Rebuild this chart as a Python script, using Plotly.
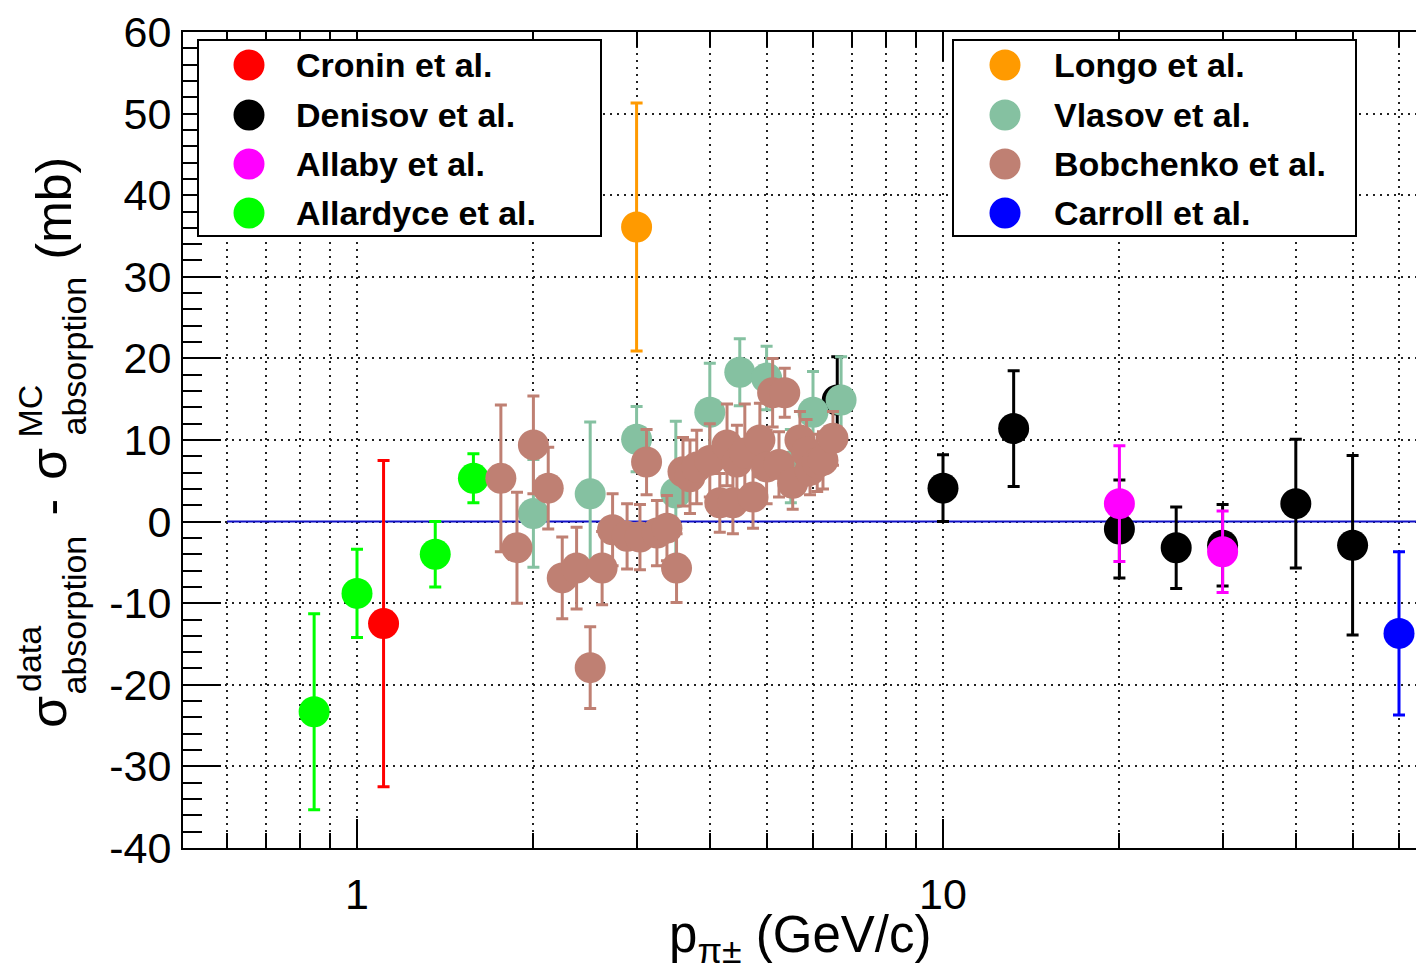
import math
import plotly.graph_objects as go

# ---------------- data (p in GeV/c, difference in mb, symmetric error) ----------------
cronin_p = [1.11]
cronin_d = [-12.5]
cronin_e = [20.0]

denisov_p = [6.6, 10.0, 13.2, 20.0, 25.0, 30.0, 40.0, 50.0]
denisov_d = [14.9, 4.1, 11.4, -0.9, -3.2, -2.9, 2.2, -2.9]
denisov_e = [5.3, 4.1, 7.1, 6.0, 5.0, 5.0, 7.9, 11.0]

allaby_p = [20.0, 30.0]
allaby_d = [2.2, -3.7]
allaby_e = [7.1, 5.0]

allardyce_p = [0.845, 1.0, 1.36, 1.58]
allardyce_d = [-23.3, -8.8, -4.0, 5.3]
allardyce_e = [12.0, 5.4, 4.0, 3.0]

longo_p = [3.0]
longo_d = [36.1]
longo_e = [15.2]

vlasov_p = [2.0, 2.5, 3.0, 3.5, 4.0, 4.5, 5.0, 5.5, 6.0, 6.7]
vlasov_d = [1.0, 3.4, 10.1, 3.5, 13.4, 18.3, 17.6, 6.8, 13.4, 14.9]
vlasov_e = [6.6, 8.8, 4.0, 8.8, 6.0, 4.1, 3.9, 4.5, 5.0, 5.3]

bobchenko_p = [1.76, 1.875, 2.0, 2.12, 2.24, 2.37, 2.5, 2.62, 2.73, 2.89, 3.04,
               3.12, 3.25, 3.38, 3.51, 3.6, 3.7, 3.8, 4.0, 4.16, 4.28, 4.38,
               4.45, 4.59, 4.74, 4.87, 5.0, 5.12, 5.25, 5.37, 5.54, 5.7, 5.85,
               5.93, 6.1, 6.24, 6.49]
bobchenko_d = [5.3, -3.2, 9.4, 4.1, -6.9, -5.7, -17.9, -5.7, -1.0, -1.8, -1.9,
               7.3, -1.4, -0.8, -5.7, 6.1, 5.5, 6.7, 7.5, 2.3, 9.4, 2.3,
               7.3, 8.4, 3.0, 10.0, 6.7, 15.8, 7.0, 15.8, 4.7, 10.0, 8.5,
               6.3, 7.2, 7.5, 10.2]
bobchenko_e = [9.0, 6.8, 6.0, 5.0, 5.0, 5.0, 5.0, 4.5, 4.4, 4.0, 4.0,
               4.0, 4.0, 4.0, 4.2, 4.2, 4.5, 4.5, 4.5, 3.6, 5.0, 3.8,
               4.5, 6.0, 3.8, 4.5, 4.5, 4.2, 4.0, 3.0, 3.2, 3.5, 4.0,
               3.0, 3.5, 3.5, 3.3]

carroll_p = [60.0]
carroll_d = [-13.7]
carroll_e = [10.0]

series_names = ["Cronin et al.", "Denisov et al.", "Allaby et al.", "Allardyce et al.",
                "Longo et al.", "Vlasov et al.", "Bobchenko et al.", "Carroll et al."]
series_colors = ["#ff0000", "#000000", "#ff00ff", "#00ff00",
                 "#ff9a00", "#85c1a1", "#bf8073", "#0000ff"]
series_data = [(cronin_p, cronin_d, cronin_e), (denisov_p, denisov_d, denisov_e),
               (allaby_p, allaby_d, allaby_e), (allardyce_p, allardyce_d, allardyce_e),
               (longo_p, longo_d, longo_e), (vlasov_p, vlasov_d, vlasov_e),
               (bobchenko_p, bobchenko_d, bobchenko_e), (carroll_p, carroll_d, carroll_e)]

zero_line_p = [0.6, 70.0]
zero_line_d = [0.0, 0.0]

x_major_ticks = [1, 10]
x_major_text = ["1", "10"]
x_minor_ticks = [0.6, 0.7, 0.8, 0.9, 2, 3, 4, 5, 6, 7, 8, 9, 20, 30, 40, 50, 60]
y_ticks = [-40, -30, -20, -10, 0, 10, 20, 30, 40, 50, 60]
y_tick_text = ["-40", "-30", "-20", "-10", "0", "10", "20", "30", "40", "50", "60"]

# ---------------- layout geometry (page pixels; the page body adds an 8px margin) ----------------
OFF = 8
W, H = 1424 - OFF, 978 - OFF
L, R, T, B = 183 - OFF, 0, 32 - OFF, 130
PW, PH = W - L - R, H - T - B
px_per_decade = 586.0
x_lo = math.log10(1.0) - (357 - 183) / px_per_decade
x_hi = x_lo + PW / px_per_decade

FONT = "Liberation Sans"


def fx(px):
    return (px - OFF - L) / PW


def fy(py):
    return (H - B - (py - OFF)) / PH


fig = go.Figure()

fig.add_trace(go.Scatter(x=zero_line_p, y=zero_line_d, mode="lines",
                         line=dict(color="#1010c8", width=2),
                         showlegend=False, hoverinfo="skip"))

for name, color, (p, d, e) in zip(series_names, series_colors, series_data):
    fig.add_trace(go.Scatter(
        x=p, y=d, mode="markers", name=name, showlegend=False,
        marker=dict(color=color, size=31, line=dict(width=0)),
        error_y=dict(type="data", array=e, visible=True, color=color,
                     thickness=3, width=6),
    ))

grid_dash = "2px,5px"
fig.update_xaxes(
    type="log", range=[x_lo, x_hi],
    tickmode="array", tickvals=x_major_ticks, ticktext=x_major_text,
    ticks="inside", ticklen=29, tickwidth=2, tickcolor="black",
    showline=True, linecolor="black", linewidth=2, mirror="ticks",
    showgrid=True, gridcolor="#222222", gridwidth=1.5, griddash=grid_dash,
    minor=dict(tickvals=x_minor_ticks, ticks="inside", ticklen=15, tickwidth=2,
               tickcolor="black", showgrid=True, gridcolor="#222222",
               gridwidth=1.5, griddash=grid_dash),
    tickfont=dict(family=FONT, size=43, color="black"),
    zeroline=False, ticklabelstandoff=7,
)
fig.update_yaxes(
    range=[-40, 60], tickmode="array", tickvals=y_ticks, ticktext=y_tick_text,
    ticks="inside", ticklen=38, tickwidth=2, tickcolor="black",
    showline=True, linecolor="black", linewidth=2, mirror=False,
    showgrid=True, gridcolor="#222222", gridwidth=1.5, griddash=grid_dash,
    minor=dict(dtick=2, ticks="inside", ticklen=19, tickwidth=2,
               tickcolor="black", showgrid=False),
    tickfont=dict(family=FONT, size=43, color="black"),
    zeroline=False, ticklabelstandoff=1,
)

shapes = []
annotations = []

# ---------------- legends (two boxes) ----------------
legend_boxes = [(198, 601, 40, 236, 249, 294, series_names[:4], series_colors[:4]),
                (953, 1356, 40, 236, 1005, 1052, series_names[4:], series_colors[4:])]
row_y = [65, 115, 164, 213]
for (bx0, bx1, by0, by1, mx, tx, names, colors) in legend_boxes:
    shapes.append(dict(type="rect", xref="paper", yref="paper",
                       x0=fx(bx0), x1=fx(bx1), y0=fy(by1), y1=fy(by0),
                       fillcolor="white", line=dict(color="black", width=2),
                       layer="above"))
    for ry, nm, col in zip(row_y, names, colors):
        shapes.append(dict(type="circle", xref="paper", yref="paper",
                           xsizemode="pixel", ysizemode="pixel",
                           xanchor=fx(mx), yanchor=fy(ry),
                           x0=-15.5, x1=15.5, y0=-15.5, y1=15.5,
                           fillcolor=col, line=dict(width=0), layer="above"))
        annotations.append(dict(xref="paper", yref="paper", x=fx(tx), y=fy(ry),
                                xanchor="left", yanchor="middle", showarrow=False,
                                text="<b>" + nm + "</b>",
                                font=dict(family=FONT, size=34, color="black")))

# ---------------- axis titles ----------------
annotations.append(dict(xref="paper", yref="paper", x=fx(933), y=fy(938),
                        xanchor="right", yanchor="middle", showarrow=False,
                        text="p<sub>π±</sub> (GeV/c)",
                        font=dict(family=FONT, size=51, color="black")))

ytitle_parts = [
    # text, size, x-center px, y-bottom px
    ("σ", 52, 48, 730),
    ("data", 34, 29, 694),
    ("absorption", 34, 73, 697),
    ("-", 50, 50, 518),
    ("σ", 52, 48, 482),
    ("MC", 34, 29, 440),
    ("absorption", 34, 73, 438),
    ("(mb)", 50, 53, 262),
]
for txt, sz, cx, by in ytitle_parts:
    annotations.append(dict(xref="paper", yref="paper", x=fx(cx), y=fy(by),
                            xanchor="center", yanchor="bottom", showarrow=False,
                            textangle=-90, text=txt,
                            font=dict(family=FONT, size=sz, color="black")))

fig.update_layout(
    width=W, height=H, margin=dict(l=L, r=R, t=T, b=B, pad=0),
    paper_bgcolor="white", plot_bgcolor="white",
    shapes=shapes, annotations=annotations, showlegend=False,
    font=dict(family=FONT, color="black"),
)

fig.write_html("out.html")
